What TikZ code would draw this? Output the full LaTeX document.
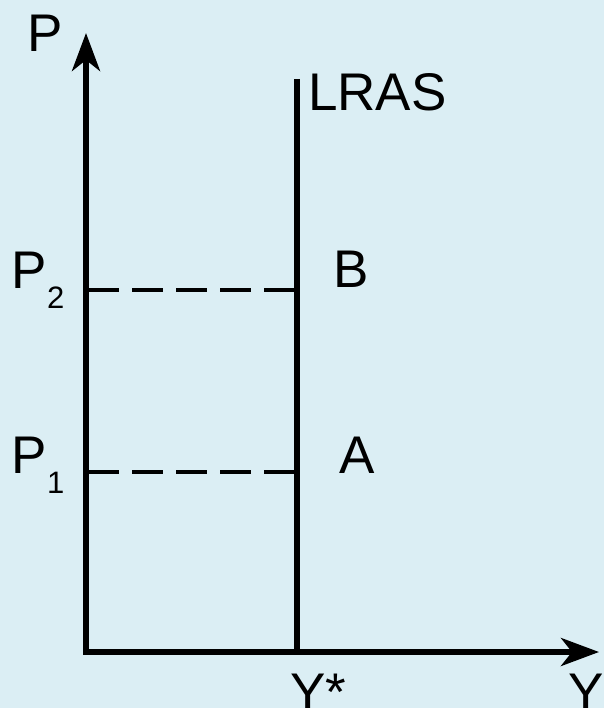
\documentclass[tikz,border=0pt]{standalone}
\usepackage{fontspec}
\setmainfont{Liberation Sans}
\usetikzlibrary{arrows.meta}
\definecolor{bg}{RGB}{219,238,244}
\begin{document}
\begin{tikzpicture}[x=1pt,y=-1pt,
  lbl/.style={inner sep=0pt, anchor=base west, font=\fontsize{53}{53}\selectfont},
  sublbl/.style={inner sep=0pt, anchor=base west, font=\fontsize{31}{31}\selectfont},
  tip/.tip={Stealth[length=38pt,width=28pt,inset=11pt]},
  axisline/.style={line width=5.5pt, line join=miter, tip-tip},
  curve/.style={line width=6pt},
  guide/.style={line width=3.5pt, dash pattern=on 31pt off 13pt}]
\fill[bg] (0,0) rectangle (604,708);
\useasboundingbox (0,0) rectangle (604,708);
% coordinates
\coordinate (ytop) at (86,33);
\coordinate (origin) at (86,652);
\coordinate (xend) at (599,652);
\coordinate (lrtop) at (297,79);
\coordinate (lrbot) at (297,652);
\coordinate (p2l) at (88,290);
\coordinate (p2r) at (295,290);
\coordinate (p1l) at (88,472);
\coordinate (p1r) at (295,472);
% axes
\draw[axisline] (ytop) -- (origin) -- (xend);
% LRAS
\draw[curve] (lrtop) -- (lrbot);
% guides
\draw[guide] (p2l) -- (p2r);
\draw[guide] (p1l) -- (p1r);
% labels
\node[lbl] (P) at (27,52) {P};
\node[lbl] (lras) at (308,111) {LRAS};
\node[lbl] (P2) at (11,288) {P};
\node[sublbl] (s2) at (47,308) {2};
\node[lbl] (B) at (333,287) {B};
\node[lbl] (P1) at (11,473) {P};
\node[sublbl] (s1) at (47,493) {1};
\node[lbl] (A) at (339,473) {A};
\node[lbl] (ystar) at (290,710) {Y*};
\node[lbl] (Y) at (568,710) {Y};
\end{tikzpicture}
\end{document}
